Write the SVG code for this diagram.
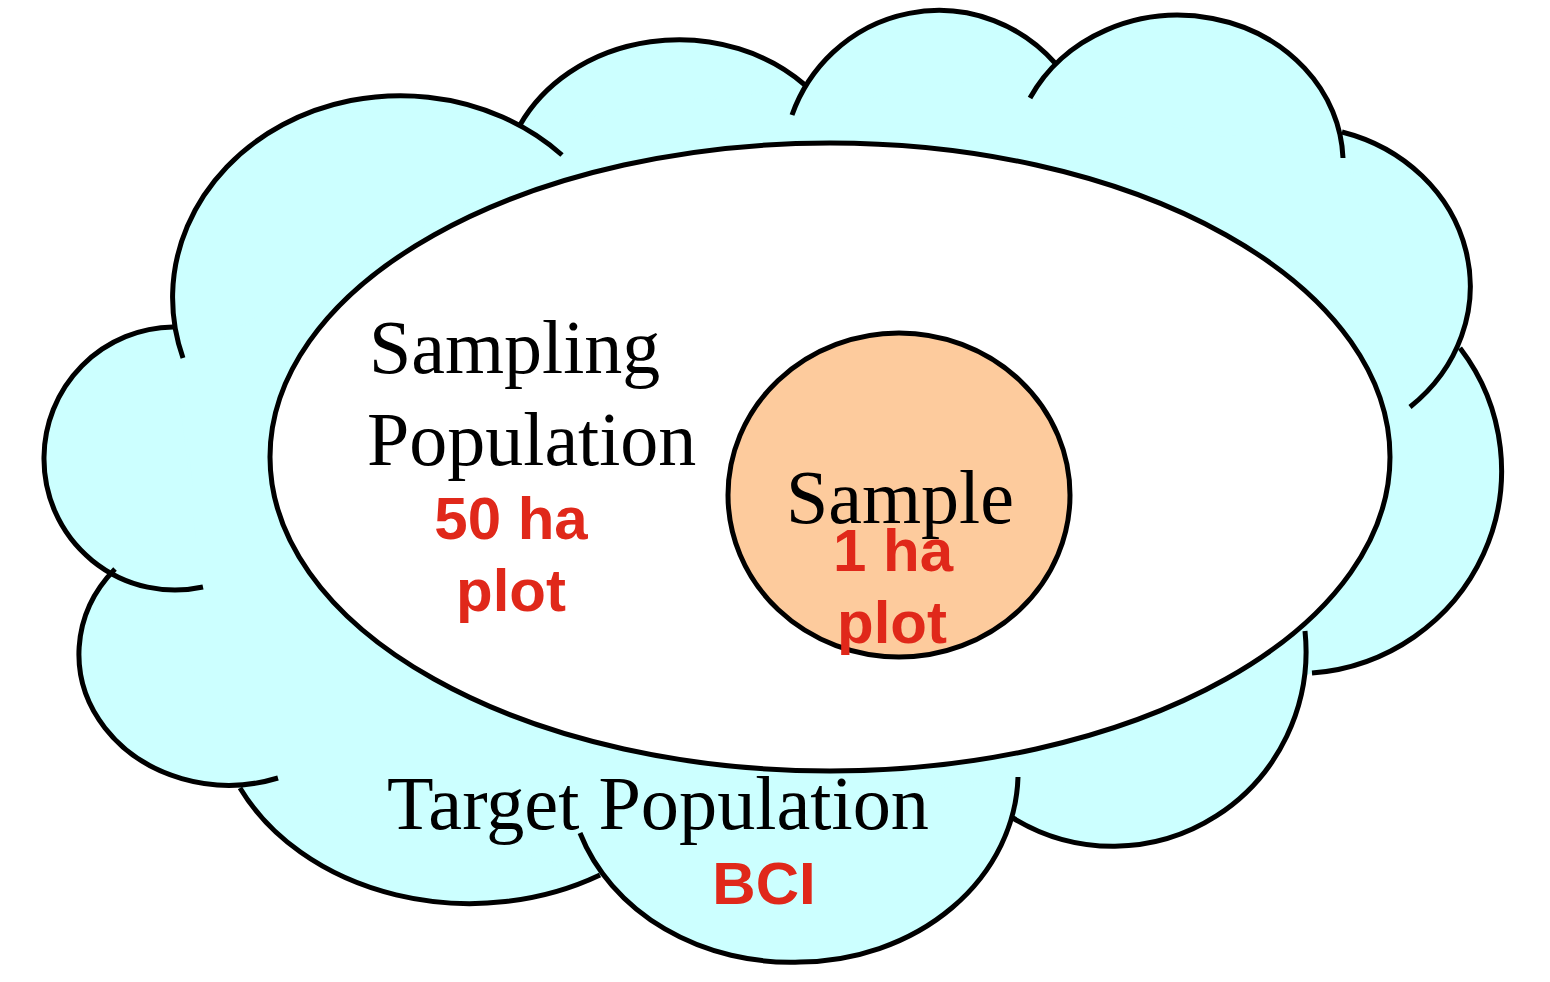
<svg xmlns="http://www.w3.org/2000/svg" width="1550" height="982" viewBox="0 0 1550 982">
<style>
.bump{fill:none;stroke:#000;stroke-width:5;stroke-linecap:butt}
.bfill{fill:#CCFFFF;stroke:#CCFFFF;stroke-width:3;stroke-linejoin:round}
.ser{font-family:"Liberation Serif","Times New Roman",serif;font-size:76px;fill:#000}
.red{font-family:"Liberation Sans",Arial,sans-serif;font-weight:bold;font-size:60px;fill:#E0281A;text-anchor:middle}
</style>
<rect width="1550" height="982" fill="#fff"/>
<g id="target-population">
  <g class="bfill">
    <polygon points="173,327 520,125 805,85 1055,63 1342,132 1460,348 1310,672 1012,820 600,875 240,788 115,569"/>
    <path d="M183,358 A228,202 0 0 1 562,155 Z"/>
    <path d="M520,125 A177,152 0 0 1 805,85 Z"/>
    <path d="M792,115 A156,158 0 0 1 1055,63 Z"/>
    <path d="M1030,98 A165,148 0 0 1 1343,158 Z"/>
    <path d="M1342,132 A175,160 0 0 1 1410,407 Z"/>
    <path d="M1460,348 A205,203 0 0 1 1312,673 Z"/>
    <path d="M1305,631 A193,195 0 0 1 1013,818 Z"/>
    <path d="M1018,777 A220,190 0 0 1 800,962 A222,190 0 0 1 580,833 Z"/>
    <path d="M600,875 A255,204 0 0 1 240,788 Z"/>
    <path d="M278,778 A150,131 0 0 1 115,569 Z"/>
    <path d="M203,587 A131,131 0 0 1 44,457 A131,131 0 0 1 173,327 Z"/>
  </g>
  <g class="bump">
    <path d="M183,358 A228,202 0 0 1 562,155"/>
    <path d="M520,125 A177,152 0 0 1 805,85"/>
    <path d="M792,115 A156,158 0 0 1 1055,63"/>
    <path d="M1030,98 A165,148 0 0 1 1343,158"/>
    <path d="M1342,132 A175,160 0 0 1 1410,407"/>
    <path d="M1460,348 A205,203 0 0 1 1312,673"/>
    <path d="M1305,631 A193,195 0 0 1 1013,818"/>
    <path d="M1018,777 A220,190 0 0 1 800,962 A222,190 0 0 1 580,833"/>
    <path d="M600,875 A255,204 0 0 1 240,788"/>
    <path d="M278,778 A150,131 0 0 1 115,569"/>
    <path d="M203,587 A131,131 0 0 1 44,457 A131,131 0 0 1 173,327"/>
  </g>
</g>
<g id="sampling-population">
  <ellipse cx="830" cy="457" rx="560" ry="314" fill="#fff" stroke="#000" stroke-width="5"/>
</g>
<g id="sample">
  <ellipse cx="899" cy="495" rx="171" ry="162" fill="#FDCB9D" stroke="#000" stroke-width="5"/>
</g>
<g id="connectors"/>
<g id="labels">
  <text class="ser" x="369" y="373">Sampling</text>
  <text class="ser" x="367" y="465">Population</text>
  <text class="red" x="511" y="539">50 ha</text>
  <text class="red" x="511" y="611">plot</text>
  <text class="ser" x="786" y="523">Sample</text>
  <text class="red" x="893" y="571">1 ha</text>
  <text class="red" x="892" y="643">plot</text>
  <text class="ser" x="387" y="829" textLength="542" lengthAdjust="spacingAndGlyphs">Target Population</text>
  <text class="red" x="764" y="904">BCI</text>
</g>
</svg>
